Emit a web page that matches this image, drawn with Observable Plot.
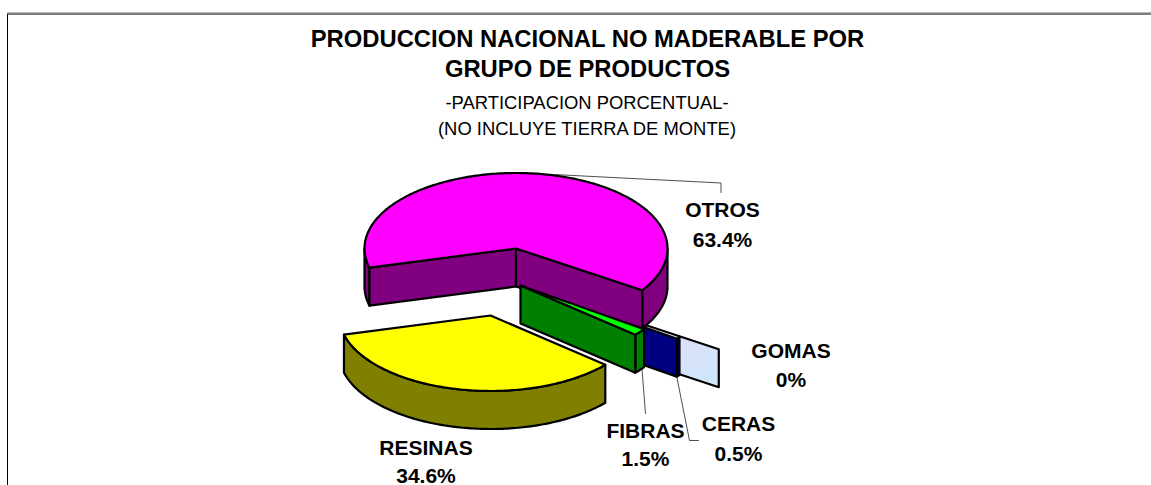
<!DOCTYPE html>
<html><head><meta charset="utf-8">
<script src="https://cdn.jsdelivr.net/npm/d3@7"></script>
<script src="https://cdn.jsdelivr.net/npm/@observablehq/plot@0.6"></script>
<style>html,body{margin:0;background:#fff}svg{display:block}</style>
</head><body><div id="chart"></div>
<script>
// Data
const categories = ["OTROS", "GOMAS", "CERAS", "FIBRAS", "RESINAS"];
const shares = [63.4, 0, 0.5, 1.5, 34.6];
const shareLabels = ["63.4%", "0%", "0.5%", "1.5%", "34.6%"];
const titleLines = ["PRODUCCION NACIONAL NO MADERABLE POR", "GRUPO DE PRODUCTOS"];
const subtitleLines = ["-PARTICIPACION PORCENTUAL-", "(NO INCLUYE TIERRA DE MONTE)"];

// Layout and style
const W = 1151, H = 485;
const rx = 151.5, ry = 75.5, depth = 38, startDeg = 255.3;
const centers = {OTROS:[515.5,248], GOMAS:[592,307], CERAS:[552.7,294.6], FIBRAS:[520,285], RESINAS:[490,315]};
const topFill = {OTROS:"#FF00FF", CERAS:"#000080", FIBRAS:"#00FF00", RESINAS:"#FFFF00"};
const sideFill = {OTROS:"#800080", GOMAS:"url(#gomasFill)", CERAS:"#000080", FIBRAS:"#008000", RESINAS:"#808000"};
const labelPos = {OTROS:[722,210,240], GOMAS:[790.5,351,380], CERAS:[738,424,454], FIBRAS:[645,431,459], RESINAS:[425.5,448,475.5]};
const leaders = [
  [[553,174],[720.5,182.5],[720.5,192]],
  [[641.5,369],[645,413]],
  [[676,375],[689,440],[698,440]]
];

// Pie angles from the values (clockwise from the top, degrees)
let cum = startDeg;
const slices = {};
categories.forEach((c,i) => { const a0 = cum; cum += shares[i] / d3.sum(shares) * 360; slices[c] = [a0, cum]; });

const pt = (c, a, dy=0) => { const [cx,cy] = centers[c], t = a*Math.PI/180;
  return [cx + rx*Math.sin(t), cy - ry*Math.cos(t) + dy]; };
const arc = (c, a0, a1, dy=0) => { const n = Math.max(1, Math.ceil(Math.abs(a1-a0))), o = [];
  for (let i=0;i<=n;i++) o.push(pt(c, a0+(a1-a0)*i/n, dy)); return o; };
const sector = (c, a0, a1) => [centers[c], ...arc(c,a0,a1)];
const rim = (c, a0, a1) => [...arc(c,a0,a1), ...arc(c,a1,a0,depth)];
const wall = (c, a) => { const [x,y] = centers[c], [ex,ey] = pt(c,a);
  return [[x,y],[ex,ey],[ex,ey+depth],[x,y+depth]]; };

const poly = (pts, fill) => Plot.line(pts, {x:d=>d[0], y:d=>d[1], curve:"linear-closed",
  fill, stroke:"#000", strokeWidth:2.2, strokeLinejoin:"round"});

const [oA,oB] = slices.OTROS, [cA,cB] = slices.CERAS, [fA,fB] = slices.FIBRAS, [rA,rB] = slices.RESINAS;

const defs = () => {
  const d = d3.create("svg:defs");
  const g = d.append("linearGradient").attr("id","gomasFill").attr("x1","0").attr("y1","0").attr("x2","1").attr("y2","1");
  g.append("stop").attr("offset","0.35").attr("stop-color","#E4DEF6");
  g.append("stop").attr("offset","1").attr("stop-color","#CCE6FB");
  return d.node();
};

const marks = [
  defs,
  // frame
  Plot.line([[7,H],[7,13.5],[W,13.5]], {x:d=>d[0], y:d=>d[1], stroke:"#000", strokeWidth:1}),
  Plot.line([[7,12.5],[W,12.5]], {x:d=>d[0], y:d=>d[1], stroke:"#777", strokeWidth:1}),
  // back slices
  poly(wall("GOMAS", slices.GOMAS[1]), sideFill.GOMAS),
  poly(rim("CERAS", cA, cB), sideFill.CERAS),
  poly(wall("CERAS", cB), sideFill.CERAS),
  // otros
  poly(rim("OTROS", 90, oB-360), sideFill.OTROS),
  poly(rim("OTROS", oA, 270), sideFill.OTROS),
  poly(wall("OTROS", oA), sideFill.OTROS),
  poly(wall("OTROS", oB), sideFill.OTROS),
  poly(sector("OTROS", oA, oB), topFill.OTROS),
  // fibras
  poly(rim("FIBRAS", fA, fB), sideFill.FIBRAS),
  poly(wall("FIBRAS", fB), sideFill.FIBRAS),
  poly(sector("FIBRAS", fA, fB), topFill.FIBRAS),
  // resinas
  poly(rim("RESINAS", rA, rB), sideFill.RESINAS),
  poly(sector("RESINAS", rA, rB), topFill.RESINAS),
  // leaders
  ...leaders.map(l => Plot.line(l, {x:d=>d[0], y:d=>d[1], stroke:"#222", strokeWidth:0.8})),
  // labels
  Plot.text(categories, {x:c=>labelPos[c][0], y:c=>labelPos[c][1], text:c=>c, fontWeight:"bold", fontSize:21, fill:"#000"}),
  Plot.text(categories, {x:c=>labelPos[c][0], y:c=>labelPos[c][2], text:(c)=>shareLabels[categories.indexOf(c)], fontWeight:"bold", fontSize:21, fill:"#000"}),
  // titles
  Plot.text(titleLines, {x:()=>587, y:(d,i)=>[38.5,69][i], text:d=>d, fontWeight:"bold", fontSize:23.8, fill:"#000"}),
  Plot.text(subtitleLines, {x:()=>586.5, y:(d,i)=>[103,129][i], text:d=>d, fontSize:18.4, fill:"#000"})
];

const chart = Plot.plot({
  width:W, height:H, margin:0,
  style:{fontFamily:"'Liberation Sans', Arial, sans-serif", background:"#fff", overflow:"visible"},
  x:{domain:[0,W], range:[0,W], axis:null},
  y:{domain:[0,H], range:[0,H], axis:null},
  marks
});
document.getElementById("chart").append(chart);
</script></body></html>
